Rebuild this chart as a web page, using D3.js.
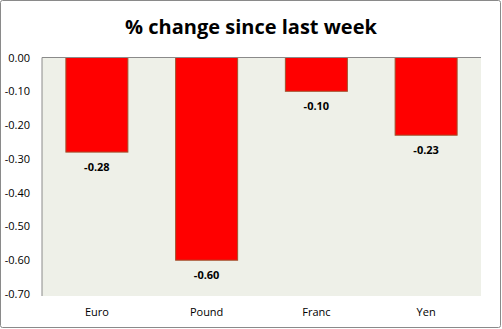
<!DOCTYPE html>
<html>
<head>
<meta charset="utf-8">
<script src="https://cdn.jsdelivr.net/npm/d3@7"></script>
<style>
  html, body { margin: 0; padding: 0; background: #fff; }
  svg { display: block; }
  text { font-family: "Open Sans", "Liberation Sans", sans-serif; }
</style>
</head>
<body>
<svg id="chart" width="502" height="329"></svg>
<script>
// Weekly currency moves (%)
const categories = ["Euro", "Pound", "Franc", "Yen"];
const values = [-0.28, -0.60, -0.10, -0.23];
const tickValues = [0, -0.1, -0.2, -0.3, -0.4, -0.5, -0.6, -0.7];
const title = "% change since last week";

// Two-decimal format with a plain hyphen for negatives
const fmt = d3.formatLocale({ decimal: ".", thousands: ",", grouping: [3], currency: ["", ""], minus: "-" }).format(".2f");

const svg = d3.select("#chart");
const W = 502, H = 329;
const plot = { left: 42, right: 481, top: 57.5, bottom: 294 };

// Outer frame
svg.append("rect")
  .attr("x", 0.5).attr("y", 0.5)
  .attr("width", W - 2).attr("height", H - 2)
  .attr("rx", 2)
  .attr("fill", "#fff").attr("stroke", "#8a8a8a");

// Title
svg.append("text")
  .attr("x", 251).attr("y", 34)
  .attr("text-anchor", "middle")
  .attr("font-size", 20).attr("font-weight", "bold")
  .attr("fill", "#000")
  .text(title);

const x = d3.scaleBand()
  .domain(categories)
  .range([plot.left, plot.right])
  .paddingInner(0.435)
  .paddingOuter(0.2175);

const y = d3.scaleLinear()
  .domain([0, -0.7])
  .range([plot.top, plot.bottom]);

// Plot area background
svg.append("rect")
  .attr("x", plot.left).attr("y", plot.top)
  .attr("width", plot.right - plot.left)
  .attr("height", plot.bottom - plot.top + 2)
  .attr("fill", "#eef0e8");

// Bars
svg.append("g").selectAll("rect")
  .data(values)
  .join("rect")
  .attr("x", (d, i) => x(categories[i]))
  .attr("y", y(0))
  .attr("width", x.bandwidth())
  .attr("height", d => y(d) - y(0))
  .attr("fill", "#ff0000")
  .attr("stroke", "#a0522d")
  .attr("stroke-width", 1);

// Value labels
svg.append("g").selectAll("text")
  .data(values)
  .join("text")
  .attr("x", (d, i) => x(categories[i]) + x.bandwidth() / 2)
  .attr("y", d => y(d) + 19)
  .attr("text-anchor", "middle")
  .attr("font-size", 11).attr("font-weight", "bold")
  .attr("fill", "#000")
  .text(d => fmt(d));

// Horizontal axis at zero (top edge)
svg.append("line")
  .attr("x1", plot.left).attr("x2", plot.right)
  .attr("y1", y(0)).attr("y2", y(0))
  .attr("stroke", "#8a8a8a").attr("stroke-width", 1);

// Value axis
const yAxis = d3.axisLeft(y)
  .tickValues(tickValues)
  .tickSize(0)
  .tickPadding(12)
  .tickFormat(fmt);
const gy = svg.append("g")
  .attr("transform", `translate(${plot.left},0)`)
  .call(yAxis);
gy.select(".domain")
  .attr("stroke", "#8a8a8a")
  .attr("d", `M0,${plot.top}V${plot.bottom + 2}`);
gy.selectAll("text")
  .attr("font-size", 11)
  .attr("font-family", "'Open Sans', 'Liberation Sans', sans-serif")
  .attr("fill", "#000");

// Category labels
svg.append("g").selectAll("text")
  .data(categories)
  .join("text")
  .attr("x", d => x(d) + x.bandwidth() / 2)
  .attr("y", 316)
  .attr("text-anchor", "middle")
  .attr("font-size", 11)
  .attr("fill", "#000")
  .text(d => d);
</script>
</body>
</html>
